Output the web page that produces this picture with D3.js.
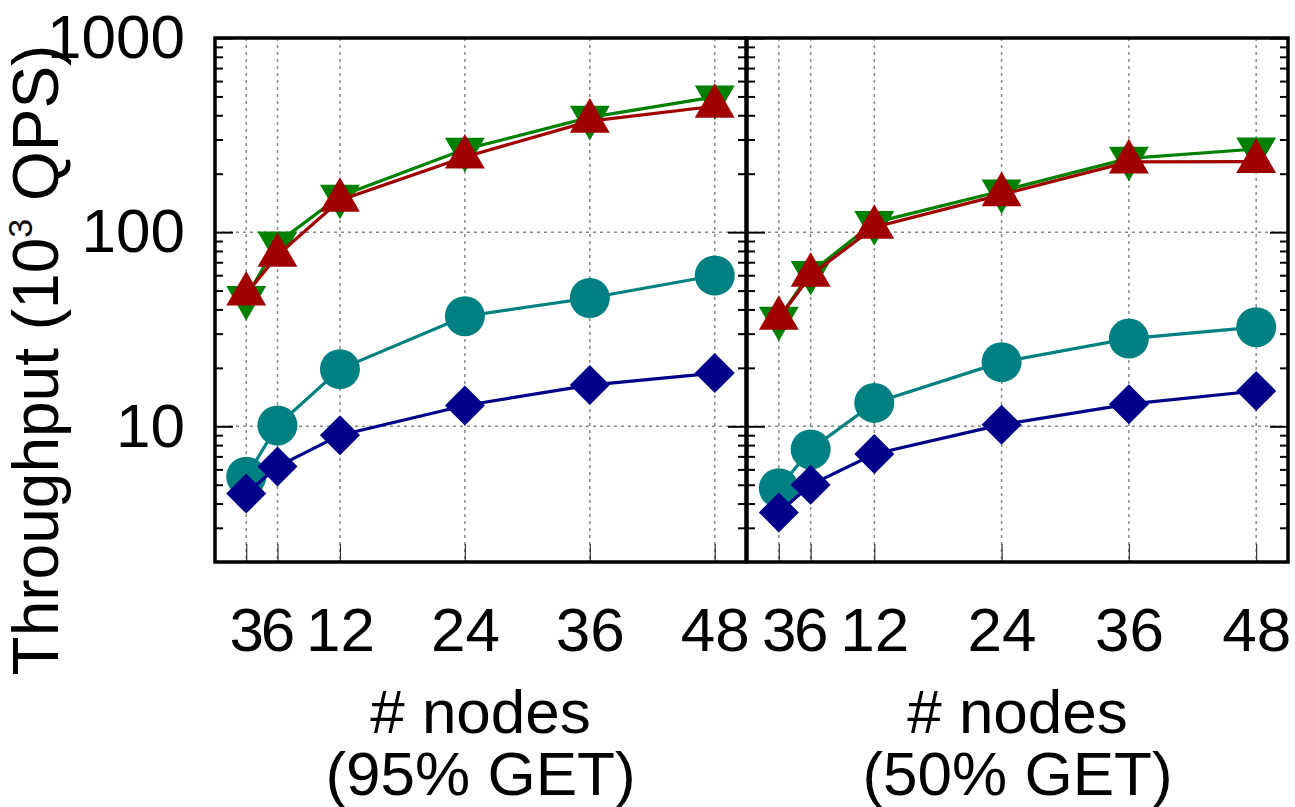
<!DOCTYPE html>
<html>
<head>
<meta charset="utf-8">
<script src="https://cdn.jsdelivr.net/npm/d3@7"></script>
<style>
  body { margin: 0; background: #fff; }
  text { font-family: "Liberation Sans", Arial, sans-serif; }
</style>
</head>
<body>
<script>
// x values (# nodes)
var nodes = [3, 6, 12, 24, 36, 48];

// 95% GET panel
var get95Green = [46, 88, 153, 267, 390, 497];
var get95Red = [48, 76, 146, 244, 373, 445];
var get95Teal = [5.5, 10.1, 19.7, 36.9, 45.8, 59.8];
var get95Navy = [4.5, 6.2, 9.0, 12.8, 16.3, 18.8];

// 50% GET panel
var get50Green = [36, 62, 112, 163, 240, 268];
var get50Red = [36, 60, 106, 156, 230, 231];
var get50Teal = [4.8, 7.6, 13.2, 21.4, 28.3, 32.4];
var get50Navy = [3.6, 5.0, 7.2, 10.2, 13.0, 15.2];

var yMajor = [10, 100, 1000];
var yMinor = [3, 4, 5, 6, 7, 8, 9, 20, 30, 40, 50, 60, 70, 80, 90, 200, 300, 400, 500, 600, 700, 800, 900];
var panelTitles = ["(95% GET)", "(50% GET)"];

var width = 1295;
var height = 807;
var plotTop = 38, plotBottom = 562;
var fontSize = 62;

var svg = d3.select("body").append("svg")
    .attr("width", width)
    .attr("height", height);

var yScale = d3.scaleLog()
    .domain([2, 1000])
    .range([plotBottom, plotTop]);

var panels = [
    { x0: 215, x1: 746, title: panelTitles[0], labels: true,
      series: [
        { vals: get95Green, color: "#008000", shape: "down" },
        { vals: get95Red, color: "#a00000", shape: "up" },
        { vals: get95Teal, color: "#008080", shape: "circle" },
        { vals: get95Navy, color: "#00008b", shape: "diamond" }
      ] },
    { x0: 747, x1: 1288, title: panelTitles[1], labels: false,
      series: [
        { vals: get50Green, color: "#008000", shape: "down" },
        { vals: get50Red, color: "#a00000", shape: "up" },
        { vals: get50Teal, color: "#008080", shape: "circle" },
        { vals: get50Navy, color: "#00008b", shape: "diamond" }
      ] }
];

function symbolPath(shape) {
    if (shape === "circle") return d3.symbol().type(d3.symbolCircle).size(Math.PI * 20 * 20)();
    if (shape === "diamond") return d3.symbol().type(d3.symbolSquare).size(800)();
    return d3.symbol().type(d3.symbolTriangle).size(690)();
}
function symbolRotate(shape) {
    if (shape === "diamond") return 45;
    if (shape === "down") return 180;
    return 0;
}

panels.forEach(function(p) {
    var xScale = d3.scaleLinear()
        .domain([0, 51])
        .range([p.x0, p.x1]);
    var pw = p.x1 - p.x0;

    var g = svg.append("g");

    // grid
    g.selectAll(".vgrid")
        .data(nodes)
        .enter().append("line")
        .attr("x1", function(d) { return xScale(d); })
        .attr("x2", function(d) { return xScale(d); })
        .attr("y1", plotTop)
        .attr("y2", plotBottom)
        .attr("stroke", "#888")
        .attr("stroke-width", 1.5)
        .attr("stroke-dasharray", "3,4");
    g.selectAll(".hgrid")
        .data([10, 100])
        .enter().append("line")
        .attr("x1", p.x0)
        .attr("x2", p.x1)
        .attr("y1", function(d) { return yScale(d); })
        .attr("y2", function(d) { return yScale(d); })
        .attr("stroke", "#888")
        .attr("stroke-width", 1.5)
        .attr("stroke-dasharray", "3,4");

    // y ticks, left and right, inward
    var leftAxis = d3.axisLeft(yScale)
        .tickValues(yMajor)
        .tickSize(-18)
        .tickPadding(30)
        .tickFormat(p.labels ? d3.format("d") : "");
    var leftG = g.append("g")
        .attr("transform", "translate(" + p.x0 + ",0)")
        .call(leftAxis);
    var leftMinor = g.append("g")
        .attr("transform", "translate(" + p.x0 + ",0)")
        .call(d3.axisLeft(yScale).tickValues(yMinor).tickSize(-8).tickFormat(""));
    var rightG = g.append("g")
        .attr("transform", "translate(" + p.x1 + ",0)")
        .call(d3.axisRight(yScale).tickValues(yMajor).tickSize(-18).tickFormat(""));
    var rightMinor = g.append("g")
        .attr("transform", "translate(" + p.x1 + ",0)")
        .call(d3.axisRight(yScale).tickValues(yMinor).tickSize(-8).tickFormat(""));
    [leftG, leftMinor, rightG, rightMinor].forEach(function(a) {
        a.select(".domain").remove();
        a.selectAll(".tick line").attr("stroke", "#000").attr("stroke-width", 2);
    });
    leftG.selectAll("text")
        .attr("font-size", fontSize)
        .attr("fill", "#000")
        .attr("font-family", "Liberation Sans, Arial, sans-serif");

    // x axis
    var xAxis = d3.axisBottom(xScale)
        .tickValues(nodes)
        .tickSize(-18)
        .tickPadding(45)
        .tickFormat(d3.format("d"));
    var xG = g.append("g")
        .attr("transform", "translate(0," + plotBottom + ")")
        .call(xAxis);
    xG.select(".domain").remove();
    xG.selectAll(".tick line").attr("stroke", "#333").attr("stroke-width", 1.2);
    xG.selectAll("text")
        .attr("font-size", fontSize)
        .attr("fill", "#000")
        .attr("font-family", "Liberation Sans, Arial, sans-serif");

    // series
    var line = d3.line()
        .x(function(d, i) { return xScale(nodes[i]); })
        .y(function(d) { return yScale(d); });
    p.series.forEach(function(s) {
        var sg = g.append("g");
        sg.append("path")
            .attr("d", line(s.vals))
            .attr("fill", "none")
            .attr("stroke", s.color)
            .attr("stroke-width", 3.2);
        sg.selectAll("path.pt")
            .data(s.vals)
            .enter().append("path")
            .attr("class", "pt")
            .attr("d", symbolPath(s.shape))
            .attr("transform", function(d, i) {
                return "translate(" + xScale(nodes[i]) + "," + yScale(d) + ") rotate(" + symbolRotate(s.shape) + ")";
            })
            .attr("fill", s.color);
    });

    // border
    g.append("rect")
        .attr("x", p.x0)
        .attr("y", plotTop)
        .attr("width", pw)
        .attr("height", plotBottom - plotTop)
        .attr("fill", "none")
        .attr("stroke", "#000")
        .attr("stroke-width", 3.5);

    // x titles
    var cx = (p.x0 + p.x1) / 2;
    svg.append("text")
        .attr("x", cx)
        .attr("y", 733)
        .attr("text-anchor", "middle")
        .attr("font-size", fontSize)
        .text("# nodes");
    svg.append("text")
        .attr("x", cx)
        .attr("y", 795)
        .attr("text-anchor", "middle")
        .attr("font-size", fontSize)
        .text(p.title);
});

// y title
var yTitle = svg.append("text")
    .attr("transform", "translate(58," + ((plotTop + plotBottom) / 2 + 60) + ") rotate(-90)")
    .attr("text-anchor", "middle")
    .attr("font-size", fontSize + 2);
yTitle.append("tspan").text("Throughput (10");
yTitle.append("tspan").attr("font-size", 34).attr("dy", -26).text("3");
yTitle.append("tspan").attr("dy", 26).text(" QPS)");
</script>
</body>
</html>
